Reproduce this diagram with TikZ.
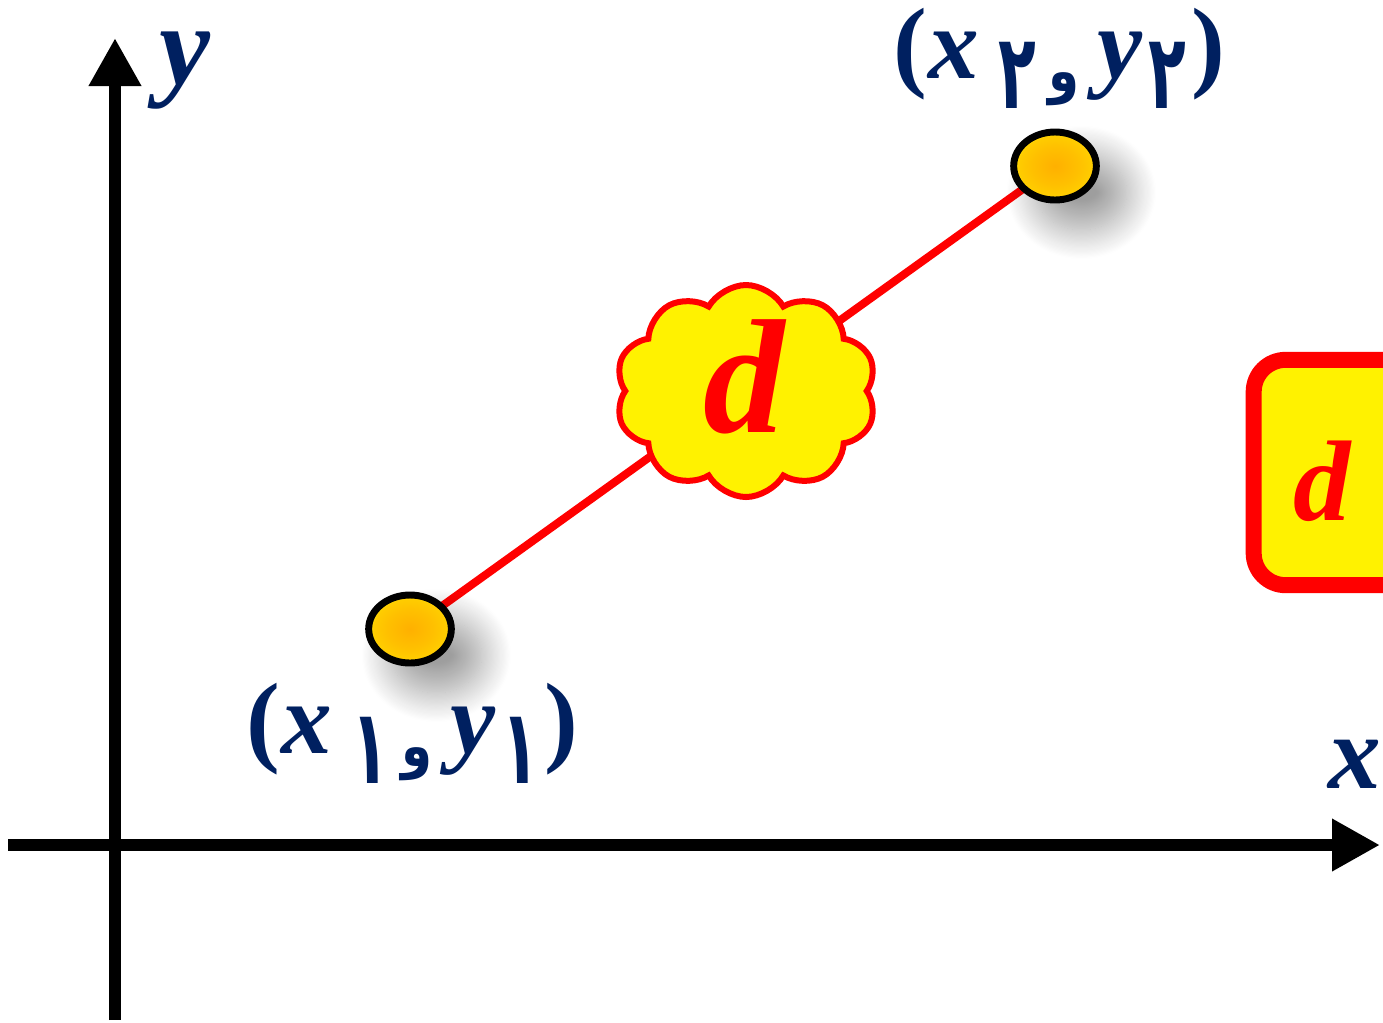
\documentclass[tikz,border=0pt]{standalone}
\usepackage{fontspec}
\usepackage{graphicx}
\setmainfont{Liberation Serif}
\newfontfamily\arabicfont[Script=Arabic]{DejaVu Sans}
\TeXXeTstate=1
\usetikzlibrary{arrows.meta,shapes.geometric,shapes.symbols,shadows.blur}
\definecolor{navy}{RGB}{0,32,96}
\definecolor{goldin}{RGB}{255,176,0}
\definecolor{goldmid}{RGB}{255,192,0}
\definecolor{goldout}{RGB}{255,232,0}
\pgfdeclareradialshading{goldball}{\pgfpoint{0bp}{0bp}}{color(0bp)=(goldin); color(14bp)=(goldmid); color(22bp)=(goldmid!70!goldout); color(25bp)=(goldout); color(50bp)=(goldout)}
\pgfdeclarelayer{background}
\pgfsetlayers{background,main}
\newcommand\fadig[1]{\scalebox{0.8}[1.35]{\arabicfont\bfseries\fontsize{58pt}{58pt}\selectfont\beginR #1\endR}}
\newcommand\fawaw{\scalebox{0.85}[1]{\arabicfont\bfseries\fontsize{44pt}{44pt}\selectfont\beginR و\endR}}
\newcommand\ptlabel[1]{(\kern0.02em\textit{x}\kern0.19em\raisebox{-23pt}{\fadig{#1}}\kern0.12em\raisebox{-10pt}{\fawaw}\kern0.18em\textit{y}\kern0.05em\raisebox{-23pt}{\fadig{#1}}\kern0.05em)}
\tikzset{
  axis/.style={line width=9pt, black, -{Triangle[width=37pt,length=36pt]}},
  lab/.style={text=navy, font=\fontsize{76pt}{80pt}\selectfont\bfseries, anchor=base, inner sep=0pt},
  axlab/.style={text=navy, font=\fontsize{86pt}{90pt}\selectfont\bfseries\itshape, anchor=base, inner sep=0pt, text height=0.5em},
  ptnode/.style={ellipse, draw=black, line width=5.2pt, shading=goldball,
    minimum width=62pt, minimum height=51pt, inner sep=0pt,
    blur shadow={shadow xshift=18pt, shadow yshift=-18pt, shadow blur radius=20pt, shadow blur steps=25, shadow opacity=38, shadow scale=1.1}},
  seg/.style={red, line width=6pt},
  dtext/.style={text=red, font=\bfseries\itshape, anchor=base, inner sep=0pt}
}
\begin{document}
\begin{tikzpicture}[x=0.75pt, y=-0.75pt]
\useasboundingbox (0,0) rectangle (1383,1022);
\clip (0,0) rectangle (1383,1022);
% axes
\coordinate (yb) at (115,1020);
\coordinate (yt) at (115,38);
\coordinate (xl) at (8,845);
\coordinate (xr) at (1380,845);
\draw[axis] (yb) -- (yt);
\draw[axis] (xl) -- (xr);
\node[axlab] (ylab) at (185,84) {y};
\node[axlab, font=\fontsize{79pt}{82pt}\selectfont\bfseries\itshape] (xlab) at (1355,788) {x};
% points
\node[ptnode] (p1) at (410,629) {};
\node[ptnode] (p2) at (1055,166) {};
\begin{pgfonlayer}{background}
\draw[seg] (p1.center) -- (p2.center);
\end{pgfonlayer}
% cloud
\node[cloud, cloud puffs=10, cloud puff arc=120, draw=red, fill=yellow, line width=4.5pt,
  minimum width=196pt, minimum height=159pt, inner sep=0pt] (cl) at (746,391) {};
\node[dtext, font=\fontsize{122pt}{122pt}\selectfont\bfseries\itshape] (dc) at (744,432) {d};
% box on the right
\node[draw=red, fill=yellow, line width=12pt, rounded corners=24pt,
  minimum width=125pt, minimum height=169pt, inner sep=0pt] (bx) at (1337,472.5) {};
\node[dtext, font=\fontsize{86pt}{86pt}\selectfont\bfseries\itshape] (db) at (1322,520) {d};
% labels
\node[lab] (l1) at (412,753) {\ptlabel{۱}};
\node[lab] (l2) at (1059,78) {\ptlabel{۲}};
\end{tikzpicture}
\end{document}
